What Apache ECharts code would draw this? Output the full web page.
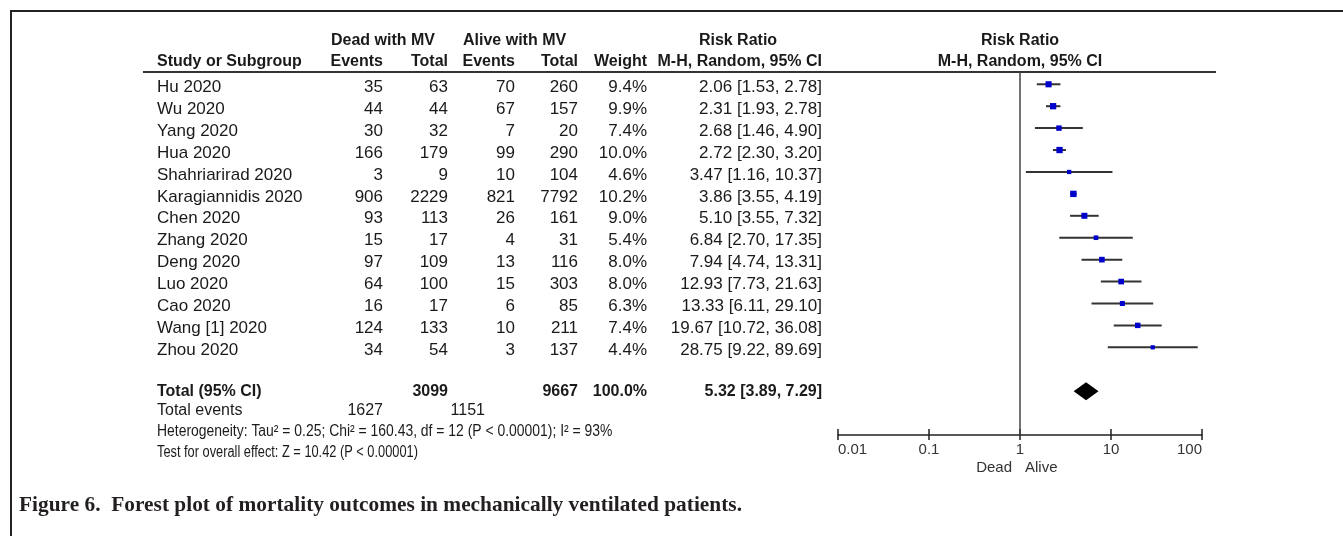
<!DOCTYPE html>
<html>
<head>
<meta charset="utf-8">
<script src="https://cdn.jsdelivr.net/npm/echarts@6/dist/echarts.min.js"></script>
<style>
  html, body { margin: 0; padding: 0; background: #fff; }
  #chart { width: 1343px; height: 536px; }
</style>
</head>
<body>
<div id="chart"></div>
<script>
// Study-level data
const studies = ['Hu 2020', 'Wu 2020', 'Yang 2020', 'Hua 2020', 'Shahriarirad 2020', 'Karagiannidis 2020',
  'Chen 2020', 'Zhang 2020', 'Deng 2020', 'Luo 2020', 'Cao 2020', 'Wang [1] 2020', 'Zhou 2020'];
const deadEvents = [35, 44, 30, 166, 3, 906, 93, 15, 97, 64, 16, 124, 34];
const deadTotal = [63, 44, 32, 179, 9, 2229, 113, 17, 109, 100, 17, 133, 54];
const aliveEvents = [70, 67, 7, 99, 10, 821, 26, 4, 13, 15, 6, 10, 3];
const aliveTotal = [260, 157, 20, 290, 104, 7792, 161, 31, 116, 303, 85, 211, 137];
const weights = [9.4, 9.9, 7.4, 10.0, 4.6, 10.2, 9.0, 5.4, 8.0, 8.0, 6.3, 7.4, 4.4];
const riskRatio = [2.06, 2.31, 2.68, 2.72, 3.47, 3.86, 5.10, 6.84, 7.94, 12.93, 13.33, 19.67, 28.75];
const ciLow = [1.53, 1.93, 1.46, 2.30, 1.16, 3.55, 3.55, 2.70, 4.74, 7.73, 6.11, 10.72, 9.22];
const ciHigh = [2.78, 2.78, 4.90, 3.20, 10.37, 4.19, 7.32, 17.35, 13.31, 21.63, 29.10, 36.08, 89.69];

// Pooled result: [estimate, lower, upper]
const pooled = [5.32, 3.89, 7.29];
const pooledTotals = [3099, 9667];
const totalWeight = 100.0;
const totalEvents = [1627, 1151];
const heterogeneityText = 'Heterogeneity: Tau\u00b2 = 0.25; Chi\u00b2 = 160.43, df = 12 (P < 0.00001); I\u00b2 = 93%';
const overallEffectText = 'Test for overall effect: Z = 10.42 (P < 0.00001)';

// Axis ticks and side labels
const axisTicks = [0.01, 0.1, 1, 10, 100];
const favourLabels = ['Dead', 'Alive'];
const caption = 'Figure 6.  Forest plot of mortality outcomes in mechanically ventilated patients.';

const TOTAL_ROW = 14;
const FONT = '"Liberation Sans", Arial, sans-serif';
const INK = '#1a1a1a';

const chart = echarts.init(document.getElementById('chart'), null, { renderer: 'canvas' });

const studyData = studies.map((s, i) => [i, riskRatio[i], ciLow[i], ciHigh[i], weights[i]]);

const sharedAxis = {
  type: 'log', logBase: 10, min: axisTicks[0], max: axisTicks[axisTicks.length - 1],
  position: 'bottom', splitLine: { show: false }
};

chart.setOption({
  animation: false,
  grid: { left: 838, right: 141, top: 72, bottom: 101, containLabel: false },
  xAxis: [
    Object.assign({}, sharedAxis, {
      axisLine: { show: true, onZero: false, lineStyle: { color: '#222', width: 1.5 } },
      axisTick: { show: true, inside: false, length: 5, lineStyle: { color: '#222', width: 1.5 } },
      axisLabel: {
        show: true, margin: 7, color: '#333', fontSize: 15, fontFamily: FONT,
        alignMinLabel: 'left', alignMaxLabel: 'right',
        formatter: v => String(axisTicks.find(t => Math.abs(Math.log10(t) - Math.log10(v)) < 1e-6) ?? v)
      }
    }),
    Object.assign({}, sharedAxis, {
      axisLine: { show: false, onZero: false },
      axisTick: { show: true, inside: true, length: 6, lineStyle: { color: '#222', width: 1.5 } },
      axisLabel: { show: false }
    })
  ],
  yAxis: { type: 'value', inverse: true, min: -0.56, max: 16, show: false },
  series: [
    {
      // line of no effect
      type: 'line', xAxisIndex: 0, symbol: 'none', silent: true,
      data: [[1, -0.56], [1, 16]],
      lineStyle: { color: '#444', width: 1.5 }
    },
    {
      // study confidence intervals and weighted squares
      type: 'custom', xAxisIndex: 0,
      data: studyData,
      encode: { x: [1, 2, 3], y: 0 },
      renderItem: (params, api) => {
        const row = api.value(0);
        const p = api.coord([api.value(1), row]);
        const a = api.coord([api.value(2), row]);
        const b = api.coord([api.value(3), row]);
        const s = 2 * Math.sqrt(api.value(4));
        return {
          type: 'group',
          children: [
            { type: 'line', shape: { x1: a[0], y1: a[1], x2: b[0], y2: b[1] },
              style: { stroke: '#333', lineWidth: 2 } },
            { type: 'rect', shape: { x: p[0] - s / 2, y: p[1] - s / 2, width: s, height: s },
              style: { fill: '#0000cc' } }
          ]
        };
      }
    },
    {
      // pooled estimate diamond
      type: 'custom', xAxisIndex: 0,
      data: [[TOTAL_ROW, pooled[0], pooled[1], pooled[2]]],
      encode: { x: [1, 2, 3], y: 0 },
      renderItem: (params, api) => {
        const row = api.value(0);
        const c = api.coord([api.value(1), row]);
        const l = api.coord([api.value(2), row]);
        const r = api.coord([api.value(3), row]);
        const h = 9;
        return {
          type: 'polygon',
          shape: { points: [[l[0], c[1]], [c[0], c[1] - h], [r[0], c[1]], [c[0], c[1] + h]] },
          style: { fill: '#000' }
        };
      }
    }
  ]
});

// Table text, placed on the same row scale as the plot
const rowY = r => chart.convertToPixel({ yAxisIndex: 0 }, r);
const xAt = v => chart.convertToPixel({ xAxisIndex: 0 }, v);

function txt(x, y, text, opt = {}) {
  return {
    type: 'text', x, y, scaleX: opt.scaleX || 1,
    style: {
      text, fill: opt.color || INK,
      font: (opt.bold ? 'bold ' : '') + (opt.size || 17) + 'px ' + (opt.family || FONT),
      align: opt.align || 'left', verticalAlign: 'middle'
    },
    silent: true
  };
}

const col = { study: 157, dEv: 383, dTot: 448, aEv: 515, aTot: 578, weight: 647, rr: 822 };
const plotCenter = xAt(1);
const g = [];

// frame
g.push({ type: 'line', shape: { x1: 10, y1: 11, x2: 1343, y2: 11 }, style: { stroke: '#222', lineWidth: 2 } });
g.push({ type: 'line', shape: { x1: 11, y1: 11, x2: 11, y2: 536 }, style: { stroke: '#222', lineWidth: 2 } });

// header
const h1 = 41, h2 = 62;
g.push(txt(331, h1, 'Dead with MV', { bold: true, size: 16 }));
g.push(txt(463, h1, 'Alive with MV', { bold: true, size: 16 }));
g.push(txt(738, h1, 'Risk Ratio', { bold: true, size: 16, align: 'center' }));
g.push(txt(plotCenter, h1, 'Risk Ratio', { bold: true, size: 16, align: 'center' }));
g.push(txt(col.study, h2, 'Study or Subgroup', { bold: true, size: 16 }));
g.push(txt(col.dEv, h2, 'Events', { bold: true, size: 16, align: 'right' }));
g.push(txt(col.dTot, h2, 'Total', { bold: true, size: 16, align: 'right' }));
g.push(txt(col.aEv, h2, 'Events', { bold: true, size: 16, align: 'right' }));
g.push(txt(col.aTot, h2, 'Total', { bold: true, size: 16, align: 'right' }));
g.push(txt(col.weight, h2, 'Weight', { bold: true, size: 16, align: 'right' }));
g.push(txt(col.rr, h2, 'M-H, Random, 95% CI', { bold: true, size: 16, align: 'right' }));
g.push(txt(plotCenter, h2, 'M-H, Random, 95% CI', { bold: true, size: 16, align: 'center' }));
g.push({ type: 'line', shape: { x1: 143, y1: 72, x2: 1216, y2: 72 }, style: { stroke: '#333', lineWidth: 2 } });

const fmtRR = (e, l, h) => e.toFixed(2) + ' [' + l.toFixed(2) + ', ' + h.toFixed(2) + ']';

studies.forEach((s, i) => {
  const y = rowY(i) + 3;
  g.push(txt(col.study, y, s));
  g.push(txt(col.dEv, y, String(deadEvents[i]), { align: 'right' }));
  g.push(txt(col.dTot, y, String(deadTotal[i]), { align: 'right' }));
  g.push(txt(col.aEv, y, String(aliveEvents[i]), { align: 'right' }));
  g.push(txt(col.aTot, y, String(aliveTotal[i]), { align: 'right' }));
  g.push(txt(col.weight, y, weights[i].toFixed(1) + '%', { align: 'right' }));
  g.push(txt(col.rr, y, fmtRR(riskRatio[i], ciLow[i], ciHigh[i]), { align: 'right' }));
});

// pooled row
const yt = rowY(TOTAL_ROW);
g.push(txt(col.study, yt, 'Total (95% CI)', { bold: true, size: 16 }));
g.push(txt(col.dTot, yt, String(pooledTotals[0]), { bold: true, size: 16, align: 'right' }));
g.push(txt(col.aTot, yt, String(pooledTotals[1]), { bold: true, size: 16, align: 'right' }));
g.push(txt(col.weight, yt, totalWeight.toFixed(1) + '%', { bold: true, size: 16, align: 'right' }));
g.push(txt(col.rr, yt, fmtRR(pooled[0], pooled[1], pooled[2]), { bold: true, size: 16, align: 'right' }));

// footer statistics
const yEv = yt + 19, yHet = yt + 40, yZ = yt + 61;
g.push(txt(col.study, yEv, 'Total events', { size: 16 }));
g.push(txt(col.dEv, yEv, String(totalEvents[0]), { size: 16, align: 'right' }));
g.push(txt(485, yEv, String(totalEvents[1]), { size: 16, align: 'right' }));
g.push(txt(col.study, yHet, heterogeneityText, { size: 16, scaleX: 0.87 }));
g.push(txt(col.study, yZ, overallEffectText, { size: 16, scaleX: 0.8 }));

// favours labels under the axis
g.push(txt(plotCenter - 8, 468, favourLabels[0], { size: 15, align: 'right', color: '#333' }));
g.push(txt(plotCenter + 5, 468, favourLabels[1], { size: 15, align: 'left', color: '#333' }));

// caption
g.push(txt(19, 506, caption, { bold: true, size: 21, scaleX: 1.018, family: '"Liberation Serif", "Times New Roman", serif', color: '#231f20' }));

chart.setOption({ graphic: { elements: g } });
</script>
</body>
</html>
